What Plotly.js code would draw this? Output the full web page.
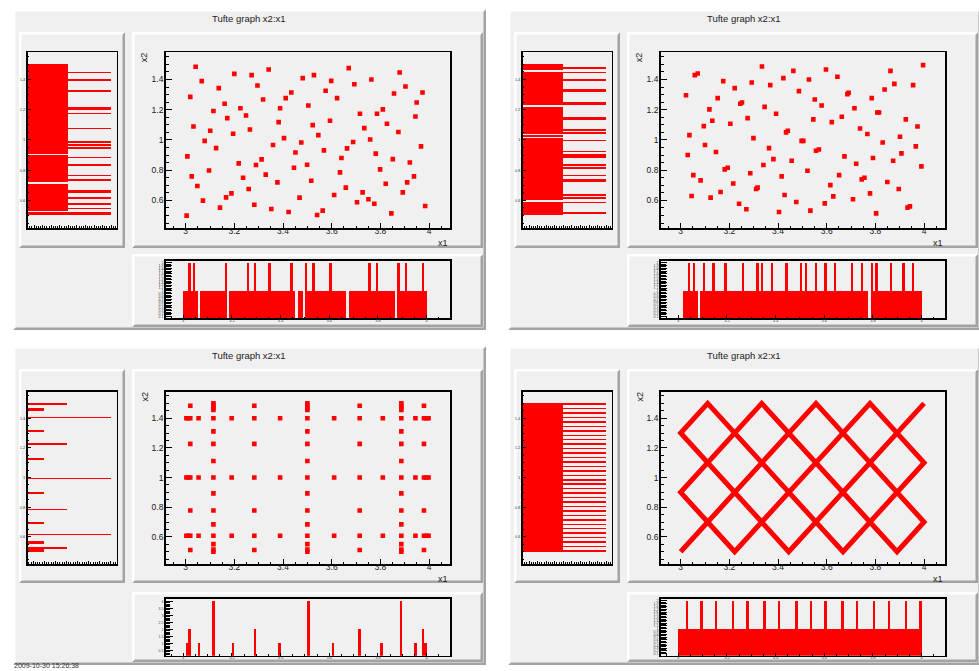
<!DOCTYPE html>
<html><head><meta charset="utf-8">
<script src="https://cdn.plot.ly/plotly-3.0.1.min.js"></script>
<style>html,body{margin:0;padding:0;background:#fff}#chart{width:979px;height:671px}</style>
</head><body><div id="chart"></div>
<script>
// ---------------- data ----------------
const titleText = 'Tufte graph x2:x1';
const xTitle = 'x1', yTitle = 'x2';
const stampText = '2009-10-30 15:26:38';

const p1x = [3.004,3.007,3.019,3.025,3.032,3.041,3.048,3.066,3.071,3.078,
 3.096,3.101,3.114,3.125,3.136,3.141,3.160,3.166,3.171,3.188,
 3.195,3.200,3.218,3.225,3.236,3.248,3.259,3.264,3.271,3.282,
 3.289,3.295,3.312,3.318,3.329,3.341,3.352,3.359,3.377,3.382,
 3.388,3.404,3.411,3.423,3.434,3.445,3.451,3.468,3.475,3.481,
 3.499,3.504,3.516,3.522,3.527,3.540,3.545,3.563,3.568,3.575,
 3.593,3.598,3.610,3.622,3.634,3.640,3.658,3.663,3.670,3.688,
 3.693,3.704,3.716,3.727,3.734,3.751,3.758,3.763,3.775,3.781,
 3.786,3.799,3.810,3.822,3.827,3.845,3.851,3.856,3.874,3.879,
 3.892,3.903,3.910,3.921,3.938,3.944,3.949,3.967,3.973,3.984];
const p1y = [0.499,0.891,1.285,0.759,1.089,1.484,0.695,1.389,0.598,0.994,
 0.798,1.061,1.191,0.946,1.343,0.552,1.239,0.620,1.144,0.646,
 1.041,1.437,0.845,1.210,0.750,1.162,0.675,1.069,1.429,0.571,
 0.834,1.360,0.871,1.268,0.770,1.466,0.543,0.966,0.719,1.118,
 1.210,1.012,1.277,0.523,1.314,0.816,0.917,0.618,0.983,1.409,
 0.836,1.228,0.730,1.098,1.429,0.503,1.032,0.532,0.931,1.325,
 1.127,1.391,0.635,1.277,0.785,0.880,0.684,0.944,1.475,0.986,
 1.369,0.587,1.173,0.653,1.078,0.607,1.003,1.400,0.578,0.909,
 1.173,0.805,1.202,0.710,1.107,0.514,0.873,1.307,1.052,1.446,
 0.653,1.354,0.719,0.851,0.759,1.155,1.248,0.957,1.314,0.563];

const p2x = [3.022,3.029,3.036,3.045,3.052,3.058,3.070,3.082,3.095,3.100,
 3.118,3.123,3.130,3.145,3.152,3.164,3.175,3.181,3.193,3.204,
 3.216,3.222,3.240,3.245,3.252,3.270,3.275,3.286,3.292,3.299,
 3.310,3.316,3.334,3.340,3.345,3.363,3.368,3.381,3.392,3.404,
 3.415,3.422,3.427,3.433,3.440,3.456,3.463,3.475,3.486,3.497,
 3.504,3.521,3.527,3.533,3.545,3.551,3.556,3.568,3.579,3.592,
 3.597,3.615,3.621,3.627,3.644,3.651,3.662,3.673,3.685,3.690,
 3.708,3.714,3.721,3.737,3.744,3.755,3.767,3.778,3.785,3.790,
 3.803,3.808,3.815,3.830,3.838,3.849,3.862,3.873,3.878,3.896,
 3.901,3.907,3.925,3.932,3.942,3.955,3.966,3.973,3.989,3.996];
const p2y = [1.296,0.900,1.032,0.629,0.767,1.429,1.440,0.732,1.091,0.966,
 1.202,0.618,1.127,0.920,1.277,0.655,1.389,0.805,0.816,1.107,
 0.712,1.343,0.578,1.239,1.248,0.541,1.144,0.779,1.380,1.012,
 0.675,0.684,1.486,0.834,1.219,0.946,1.363,0.873,1.173,0.523,
 0.759,1.409,0.635,1.050,1.061,0.862,1.457,0.589,1.323,0.994,
 0.994,0.796,1.400,0.532,1.136,1.268,0.928,0.937,1.228,0.580,
 1.466,0.701,1.118,0.626,1.418,0.767,1.153,0.891,1.303,1.312,
 0.607,1.210,0.842,1.076,0.739,0.750,1.039,0.646,1.277,0.880,
 0.514,1.182,1.182,0.983,1.334,0.721,1.457,0.862,1.371,0.675,
 1.021,0.911,1.136,0.552,0.560,1.363,0.957,1.089,0.825,1.495];

const p3x = [3.019,3.019,3.019,3.019,
 3.003,3.011,3.019,3.003,3.011,3.019,3.003,3.011,3.019,
 3.053,3.053,3.053,
 3.114,3.114,3.114,3.114,3.114,3.114,3.114,3.114,3.114,3.114,3.114,3.114,3.114,3.114,3.114,3.114,
 3.189,3.189,3.189,
 3.282,3.282,3.282,3.282,3.282,3.282,3.282,
 3.388,3.388,3.388,
 3.5,3.5,3.5,3.5,3.5,3.5,3.5,3.5,3.5,3.5,3.5,3.5,3.5,3.5,3.5,3.5,
 3.61,3.61,3.61,
 3.715,3.715,3.715,3.715,3.715,3.715,3.715,
 3.81,3.81,3.81,
 3.886,3.886,3.886,3.886,3.886,3.886,3.886,3.886,3.886,3.886,3.886,3.886,3.886,3.886,3.886,3.886,
 3.944,3.944,3.944,
 3.979,3.979,3.979,3.979,
 3.979,3.989,3.998,3.979,3.989,3.998,3.979,3.989,3.998];
const p3y = [1.484,1.227,0.778,0.511,
 1.4,1.4,1.4,1.0,1.0,1.0,0.607,0.607,0.607,
 1.4,1.0,0.607,
 1.5,1.485,1.47,1.455,1.4,1.311,1.227,1.111,1.0,0.893,0.778,0.684,0.607,0.551,0.515,0.5,
 1.4,1.0,0.607,
 1.484,1.4,1.227,1.0,0.778,0.607,0.511,
 1.4,1.0,0.607,
 1.5,1.485,1.47,1.455,1.4,1.311,1.227,1.111,1.0,0.893,0.778,0.684,0.607,0.551,0.515,0.5,
 1.4,1.0,0.607,
 1.484,1.4,1.227,1.0,0.778,0.607,0.511,
 1.4,1.0,0.607,
 1.5,1.485,1.47,1.455,1.4,1.311,1.227,1.111,1.0,0.893,0.778,0.684,0.607,0.551,0.515,0.5,
 1.4,1.0,0.607,
 1.484,1.227,0.778,0.511,
 1.4,1.4,1.4,1.0,1.0,1.0,0.607,0.607,0.607];

// panel 4: vertices of the zig-zag path traced by the points
const p4x = [3.0,3.556,4.0,3.889,3.333,3.0,3.222,3.778,4.0,3.667,3.111,3.0,3.444,4.0];
const p4y = [0.5,1.5,0.7,0.5,1.5,0.9,0.5,1.5,1.1,0.5,1.5,1.3,0.5,1.5];

// histogram bins: x2 from 0.50 in 0.01 steps, x1 from 3.00 in 0.01 steps (100 bins each)
const histYLo = 0.5, histXLo = 3.0, histBinW = 0.01;
const p1Left = [2,2,0,1,2,1,1,2,1,1, 1,2,1,1,1,2,2,1,1,1, 1,0,1,2,1,1,2,1,1,1, 1,1,1,2,1,1,1,1,2,1,
 0,1,1,1,2,1,2,1,2,1, 1,1,1,1,1,1,1,2,1,1, 1,1,1,1,1,1,1,2,1,1, 2,2,1,1,1,1,1,1,1,1,
 1,1,2,1,1,1,1,1,1,2, 1,1,1,1,2,1,1,1,1,1];
const p1Bottom = [1,1,2,1,2,1,0,1,1,1, 1,1,1,1,1,1,1,2,0,1, 1,1,1,1,1,1,2,1,1,2, 1,1,1,1,1,2,1,1,1,1,
 1,1,1,1,2,1,0,1,1,0, 2,1,1,2,1,1,1,1,1,1, 2,1,1,1,1,1,1,0,1,1, 1,1,1,1,1,1,2,1,1,2,
 1,1,1,1,1,1,1,0,2,1, 1,2,1,1,1,1,1,1,2,1];
const p2Left = [1,2,1,1,1,1,1,1,2,0, 1,2,1,2,1,1,1,1,1,1, 1,1,2,2,1,1,2,1,1,1, 1,2,1,2,1,1,1,1,2,2,
 2,1,2,1,1,1,1,1,1,2, 1,0,1,0,2,1,2,1,1,1, 1,1,1,2,2,1,1,1,1,1, 1,1,0,2,2,1,1,1,1,1,
 1,1,2,2,1,1,1,1,1,2, 1,1,1,1,2,0,1,2,1,1];
const p2Bottom = [0,0,1,1,2,1,2,1,0,1, 2,1,1,1,2,1,1,1,1,2, 1,1,1,1,1,1,2,1,1,1, 1,1,2,1,2,1,1,1,2,1,
 1,1,1,1,2,1,1,1,1,1, 2,1,2,1,1,1,2,1,1,1, 2,1,1,1,2,1,1,1,1,1, 1,2,1,1,1,2,1,1,0,2,
 1,2,1,1,1,1,1,2,1,1, 1,1,2,1,1,1,2,1,1,1];
const p3Left = [1,1,2,0,0,1,1,0,0,0, 0,4,0,0,0,0,0,0,0,1, 0,0,0,0,0,0,0,0,2,0, 0,0,0,0,0,0,0,0,0,1,
 0,0,0,0,0,0,0,0,0,4, 0,0,0,0,0,0,0,0,0,0, 0,0,1,0,0,0,0,0,0,0, 0,0,2,0,0,0,0,0,0,0,
 0,1,0,0,0,0,0,0,0,0, 4,0,0,0,0,1,1,0,0,2];
const p3Bottom = [0,1,2,0,0,0,1,0,0,0, 0,0,4,0,0,0,0,0,0,0, 1,0,0,0,0,0,0,0,0,2, 0,0,0,0,0,0,0,0,0,1,
 0,0,0,0,0,0,0,0,0,0, 0,4,0,0,0,0,0,0,0,0, 0,1,0,0,0,0,0,0,0,0, 0,0,2,0,0,0,0,0,0,0,
 0,1,0,0,0,0,0,0,0,4, 0,0,0,0,0,1,0,0,2,1];
const p4Left = [2,1,1,2,1,1,2,1,1,2, 1,1,2,1,1,2,1,1,2,1, 1,2,1,1,2,1,1,2,1,1, 2,1,1,2,1,1,2,1,1,2,
 1,1,2,1,1,2,1,1,2,1, 1,2,1,1,2,1,1,2,1,1, 2,1,1,2,1,1,2,1,1,2, 1,1,2,1,1,2,1,1,2,1,
 1,2,1,1,2,1,1,2,1,1, 2,1,1,2,1,1,2,1,1,2];
const p4Bottom = [1,1,1,2,1,1,1,1,1,2, 1,1,1,1,1,2,1,1,1,1, 1,1,2,1,1,1,1,1,2,1, 1,1,1,1,1,2,1,1,1,1,
 1,2,1,1,1,1,1,1,2,1, 1,1,1,1,2,1,1,1,1,1, 2,1,1,1,1,1,1,2,1,1, 1,1,1,2,1,1,1,1,1,1,
 2,1,1,1,1,1,2,1,1,1, 1,1,1,2,1,1,1,1,1,2];

// ---------------- layout geometry (pixels) ----------------
const W = 979, H = 671;
const PX = v => v / W, PY = v => 1 - v / H;
const RED = '#ff0000';
const FONT = 'Liberation Sans, Arial, Helvetica, sans-serif';
const colOff = [0, 495];
const rowGeo = [
  {outer:[9,330], title:18, pad:[32,248], bpad:[254,327], frame:[52.3,228.3], bframe:[260.7,318.3]},
  {outer:[346,665], title:355, pad:[369,583], bpad:[592,662], frame:[391.5,564.3], bframe:[599,655.7]}
];
const colGeo = {outer:[13,486], lpad:[19,125], spad:[132,483], lframe:[27.7,116.7], sframe:[165.7,450]};

const panels = [
  {r:0, c:0, sx:p1x, sy:p1y, mode:'markers', left:p1Left, bottom:p1Bottom, lRange:[0.05,2.13], bRange:[0.03,2.07], big:false},
  {r:0, c:1, sx:p2x, sy:p2y, mode:'markers', left:p2Left, bottom:p2Bottom, lRange:[0.05,2.13], bRange:[0.03,2.07], big:false},
  {r:1, c:0, sx:p3x, sy:p3y, mode:'markers', left:p3Left, bottom:p3Bottom, lRange:[0.25,4.26], bRange:[0.12,4.17], big:true},
  {r:1, c:1, sx:p4x, sy:p4y, mode:'lines',   left:p4Left, bottom:p4Bottom, lRange:[0.05,2.13], bRange:[0.03,2.07], big:false}
];

const layout = {
  width: W, height: H, margin:{l:0,r:0,t:0,b:0,pad:0},
  paper_bgcolor:'#ffffff', plot_bgcolor:'rgba(0,0,0,0)',
  showlegend:false, bargap:0, shapes:[], annotations:[]
};
const traces = [];

function poly(pts){ return 'M' + pts.map(q => PX(q[0]).toFixed(5) + ',' + PY(q[1]).toFixed(5)).join('L') + 'Z'; }
function pad(x0,y0,x1,y1,bw){
  layout.shapes.push({type:'rect', xref:'paper', yref:'paper', x0:PX(x0), x1:PX(x1), y0:PY(y1), y1:PY(y0),
    fillcolor:'#f0f0f0', line:{width:0}, layer:'below'});
  layout.shapes.push({type:'path', xref:'paper', yref:'paper', layer:'below', line:{width:0}, fillcolor:'#a3a3a3',
    path: poly([[x0,y1],[x1,y1],[x1,y0],[x1-bw,y0+bw],[x1-bw,y1-bw],[x0+bw,y1-bw]])});
  layout.shapes.push({type:'path', xref:'paper', yref:'paper', layer:'below', line:{width:0}, fillcolor:'#ffffff',
    path: poly([[x0,y1],[x0,y0],[x1,y0],[x1-bw,y0+bw],[x0+bw,y0+bw],[x0+bw,y1-bw]])});
}
function axName(n){ return n === 1 ? '' : String(n); }
function baseAxis(extra){
  return Object.assign({showline:true, mirror:true, linecolor:'#000', linewidth:1.6, ticks:'inside',
    tickcolor:'#000', tickwidth:1, showgrid:false, zeroline:false, fixedrange:true, tick0:0,
    tickfont:{family:FONT, size:8.5, color:'#1a1a1a'}}, extra);
}

panels.forEach((p, k) => {
  const g = rowGeo[p.r], off = colOff[p.c];
  const nL = 3*k+1, nS = 3*k+2, nB = 3*k+3;
  // pads
  pad(colGeo.outer[0]+off, g.outer[0], colGeo.outer[1]+off, g.outer[1], 2.5);
  pad(colGeo.lpad[0]+off, g.pad[0], colGeo.lpad[1]+off, g.pad[1], 2.5);
  pad(colGeo.spad[0]+off, g.pad[0], colGeo.spad[1]+off, g.pad[1], 2.5);
  pad(colGeo.spad[0]+off, g.bpad[0], colGeo.spad[1]+off, g.bpad[1], 2.5);

  const sxDom = [PX(colGeo.sframe[0]+off), PX(colGeo.sframe[1]+off)];
  const syDom = [PY(g.frame[1]), PY(g.frame[0])];
  const lxDom = [PX(colGeo.lframe[0]+off), PX(colGeo.lframe[1]+off)];
  const byDom = [PY(g.bframe[1]), PY(g.bframe[0])];

  // scatter axes
  layout['xaxis'+axName(nS)] = baseAxis({domain:sxDom, anchor:'y'+axName(nS), range:[2.918,4.086], dtick:0.2, ticklen:5,
    ticklabelstandoff:-6,
    minor:{dtick:0.05, ticklen:2.5, ticks:'inside', tickcolor:'#000', tickwidth:1}});
  layout['yaxis'+axName(nS)] = baseAxis({domain:syDom, anchor:'x'+axName(nS), range:[0.415,1.58], dtick:0.2, ticklen:6,
    ticklabelstandoff:-1,
    minor:{dtick:0.05, ticklen:3, ticks:'inside', tickcolor:'#000', tickwidth:1}});
  // left histogram axes
  layout['xaxis'+axName(nL)] = baseAxis({domain:lxDom, anchor:'y'+axName(nL), range:p.lRange, dtick:p.big?0.5:0.2, ticklen:3.5,
    showticklabels:false, minor:{dtick:p.big?0.1:0.05, ticklen:2, ticks:'inside', tickcolor:'#000', tickwidth:1}});
  layout['yaxis'+axName(nL)] = baseAxis({domain:syDom, anchor:'x'+axName(nL), range:[0.415,1.58], dtick:0.2, ticklen:3,
    tickfont:{family:FONT, size:4, color:'#444'}, minor:{dtick:0.05, ticklen:1.5, ticks:'inside', tickcolor:'#000', tickwidth:1}});
  // bottom histogram axes
  layout['xaxis'+axName(nB)] = baseAxis({domain:sxDom, anchor:'y'+axName(nB), range:[2.928,4.096], dtick:0.2, ticklen:3,
    ticklabelstandoff:-3,
    tickfont:{family:FONT, size:4, color:'#444'}, minor:{dtick:0.05, ticklen:1.5, ticks:'inside', tickcolor:'#000', tickwidth:1}});
  layout['yaxis'+axName(nB)] = baseAxis({domain:byDom, anchor:'x'+axName(nB), range:p.bRange, dtick:p.big?0.5:0.1, ticklen:p.big?7:6,
    tickfont:{family:FONT, size:3.5, color:'#444'}, minor:{dtick:p.big?0.1:0.05, ticklen:p.big?4:5, ticks:'inside', tickcolor:'#000', tickwidth:1}});

  // traces
  traces.push({type:'bar', orientation:'h', xaxis:'x'+axName(nL), yaxis:'y'+axName(nL),
    y: p.left.map((_, i) => +(histYLo + histBinW*(i+0.5)).toFixed(4)), x: p.left, width: histBinW,
    marker:{color:RED, line:{width:0}}, hoverinfo:'skip'});
  traces.push({type:'bar', xaxis:'x'+axName(nB), yaxis:'y'+axName(nB),
    x: p.bottom.map((_, i) => +(histXLo + histBinW*(i+0.5)).toFixed(4)), y: p.bottom, width: histBinW,
    marker:{color:RED, line:{width:0}}, hoverinfo:'skip'});
  if (p.mode === 'markers') {
    traces.push({type:'scatter', mode:'markers', xaxis:'x'+axName(nS), yaxis:'y'+axName(nS), x:p.sx, y:p.sy,
      marker:{symbol:'square', size:4.6, color:RED, line:{width:0}}, hoverinfo:'skip'});
  } else {
    traces.push({type:'scatter', mode:'lines', xaxis:'x'+axName(nS), yaxis:'y'+axName(nS), x:p.sx, y:p.sy,
      line:{color:RED, width:5}, hoverinfo:'skip'});
  }

  // texts
  layout.annotations.push({xref:'paper', yref:'paper', x:PX(249+off), y:PY(g.title), text:titleText, showarrow:false,
    xanchor:'center', yanchor:'middle', font:{family:FONT, size:9.5, color:'#222'}});
  layout.annotations.push({xref:'paper', yref:'paper', x:PX(colGeo.sframe[1]+off), y:PY(g.frame[1]+14.5), text:xTitle, showarrow:false,
    xanchor:'right', yanchor:'middle', font:{family:FONT, size:9, color:'#1a1a1a'}});
  layout.annotations.push({xref:'paper', yref:'paper', x:PX(144+off), y:PY(g.frame[0]+5), text:yTitle, showarrow:false,
    textangle:-90, xanchor:'center', yanchor:'middle', font:{family:FONT, size:9, color:'#1a1a1a'}});
});

layout.annotations.push({xref:'paper', yref:'paper', x:PX(12), y:0, text:stampText, showarrow:false,
  xanchor:'left', yanchor:'bottom', font:{family:FONT, size:7, color:'#333'}});

Plotly.newPlot('chart', traces, layout, {staticPlot:true, displayModeBar:false});
</script>
</body></html>
